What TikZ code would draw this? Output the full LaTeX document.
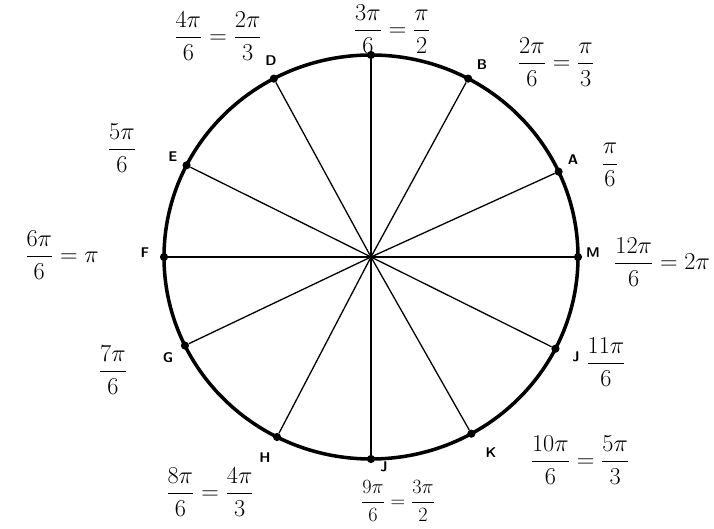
\documentclass[tikz,border=0pt]{standalone}
\usepackage{amsmath}
\tikzset{
  rim/.style={line width=3pt},
  spoke/.style={line width=1.1pt},
  pointdot/.style={circle, fill=black, inner sep=0pt, minimum size=7pt},
  letter/.style={font=\sffamily\bfseries\fontsize{12}{14}\selectfont},
  angletext/.style={font=\huge, inner sep=0pt}
}
\begin{document}
\begin{tikzpicture}[x=0.03cm, y=0.03cm]
    % Fix the page size
    \useasboundingbox (0,0) rectangle (714,529);

    % Centre of the circle
    \coordinate (O) at (371,272);

    % The rim
    \draw[rim] (O) ellipse [x radius=207, y radius=202];

    % The twelve points on the rim and the lines to the centre
    \foreach \a/\n in {25/A, 62/B, 90/T, 118/D, 153/E, 180/F,
                       206/G, 243/H, 270/Jb, 299/K, 333/Jr, 0/M}{
        \node[pointdot] (\n) at ([shift={(\a:207 and 202)}]O) {};
        \draw[spoke] (O) -- (\n);
    }
    % The horizontal diameter is drawn heavier
    \draw[line width=2pt] (F) -- (M);

    % Letters at the points
    \node[letter] (lA) at (573,369) {A};
    \node[letter] (lB) at (482,464) {B};
    \node[letter] (lD) at (271,468) {D};
    \node[letter] (lE) at (173,372) {E};
    \node[letter] (lF) at (145,276) {F};
    \node[letter] (lG) at (168,171) {G};
    \node[letter] (lH) at (265,71) {H};
    \node[letter] (lJb) at (384,62) {J};
    \node[letter] (lK) at (491,76) {K};
    \node[letter] (lJr) at (576,172) {J};
    \node[letter] (lM) at (593,276) {M};

    % Angle values
    \node[angletext] (vA) at (610,364) {$\dfrac{\pi}{6}$};
    \node[angletext] (vB) at (556,467) {$\dfrac{2\pi}{6}=\dfrac{\pi}{3}$};
    \node[angletext] (vT) at (392,500) {$\dfrac{3\pi}{6}=\dfrac{\pi}{2}$};
    \node[angletext] (vD) at (218,493) {$\dfrac{4\pi}{6}=\dfrac{2\pi}{3}$};
    \node[angletext] (vE) at (122,381) {$\dfrac{5\pi}{6}$};
    \node[angletext] (vF) at (62,274) {$\dfrac{6\pi}{6}=\pi$};
    \node[angletext] (vG) at (113,159) {$\dfrac{7\pi}{6}$};
    \node[angletext] (vH) at (210,37) {$\dfrac{8\pi}{6}=\dfrac{4\pi}{3}$};
    \node[angletext, font=\LARGE] (vJb) at (398,28) {$\dfrac{9\pi}{6}=\dfrac{3\pi}{2}$};
    \node[angletext] (vK) at (580,69) {$\dfrac{10\pi}{6}=\dfrac{5\pi}{3}$};
    \node[angletext] (vJr) at (606,167) {$\dfrac{11\pi}{6}$};
    \node[angletext] (vM) at (662,267) {$\dfrac{12\pi}{6}=2\pi$};
\end{tikzpicture}
\end{document}
